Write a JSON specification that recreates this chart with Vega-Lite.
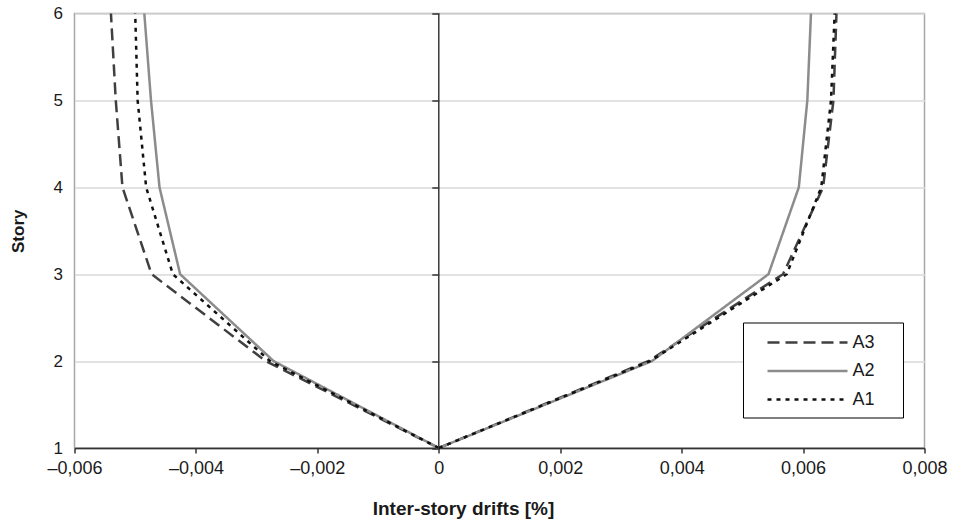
{
  "$schema": "https://vega.github.io/schema/vega-lite/v6.json",
  "width": 850,
  "height": 434.5,
  "autosize": {"type": "none"},
  "padding": {"left": 74.5, "top": 13.5, "right": 31.5, "bottom": 80},
  "background": "white",
  "config": {
    "font": "Liberation Sans",
    "view": {"stroke": "#a6a6a6", "strokeWidth": 1.5},
    "legend": {
      "orient": "none",
      "legendX": 668.5,
      "legendY": 309,
      "title": null,
      "symbolType": "M-4,0H4M8.2,0H8.2",
      "symbolSize": 400,
      "symbolStrokeWidth": 2.5,
      "symbolOffset": 44.5,
      "labelFontSize": 18,
      "labelColor": "#1a1a1a",
      "labelOffset": 33.5,
      "strokeColor": "#000000",
      "fillColor": "white",
      "padding": 8.5,
      "rowPadding": 7.5
    }
  },
  "data": {
    "values": [
      {"series": "A3", "side": "neg", "story": 1, "drift": 0},
      {"series": "A3", "side": "neg", "story": 2, "drift": -0.00285},
      {"series": "A3", "side": "neg", "story": 3, "drift": -0.00473},
      {"series": "A3", "side": "neg", "story": 4, "drift": -0.00521},
      {"series": "A3", "side": "neg", "story": 5, "drift": -0.00532},
      {"series": "A3", "side": "neg", "story": 6, "drift": -0.0054},
      {"series": "A2", "side": "neg", "story": 1, "drift": 0},
      {"series": "A2", "side": "neg", "story": 2, "drift": -0.00272},
      {"series": "A2", "side": "neg", "story": 3, "drift": -0.00426},
      {"series": "A2", "side": "neg", "story": 4, "drift": -0.0046},
      {"series": "A2", "side": "neg", "story": 5, "drift": -0.00474},
      {"series": "A2", "side": "neg", "story": 6, "drift": -0.00485},
      {"series": "A1", "side": "neg", "story": 1, "drift": 0},
      {"series": "A1", "side": "neg", "story": 2, "drift": -0.00278},
      {"series": "A1", "side": "neg", "story": 3, "drift": -0.00438},
      {"series": "A1", "side": "neg", "story": 4, "drift": -0.00482},
      {"series": "A1", "side": "neg", "story": 5, "drift": -0.00496},
      {"series": "A1", "side": "neg", "story": 6, "drift": -0.005},
      {"series": "A3", "side": "pos", "story": 1, "drift": 0},
      {"series": "A3", "side": "pos", "story": 2, "drift": 0.00345},
      {"series": "A3", "side": "pos", "story": 3, "drift": 0.00567},
      {"series": "A3", "side": "pos", "story": 4, "drift": 0.00633},
      {"series": "A3", "side": "pos", "story": 5, "drift": 0.0065},
      {"series": "A3", "side": "pos", "story": 6, "drift": 0.00655},
      {"series": "A2", "side": "pos", "story": 1, "drift": 0},
      {"series": "A2", "side": "pos", "story": 2, "drift": 0.00351},
      {"series": "A2", "side": "pos", "story": 3, "drift": 0.00543},
      {"series": "A2", "side": "pos", "story": 4, "drift": 0.00593},
      {"series": "A2", "side": "pos", "story": 5, "drift": 0.00607},
      {"series": "A2", "side": "pos", "story": 6, "drift": 0.00613},
      {"series": "A1", "side": "pos", "story": 1, "drift": 0},
      {"series": "A1", "side": "pos", "story": 2, "drift": 0.00348},
      {"series": "A1", "side": "pos", "story": 3, "drift": 0.00573},
      {"series": "A1", "side": "pos", "story": 4, "drift": 0.0063},
      {"series": "A1", "side": "pos", "story": 5, "drift": 0.00646},
      {"series": "A1", "side": "pos", "story": 6, "drift": 0.00652}
    ]
  },
  "layer": [
    {
      "mark": {"type": "rule", "color": "#3a3a3a", "strokeWidth": 1.5},
      "encoding": {
        "x": {
          "datum": 0,
          "type": "quantitative",
          "scale": {"domain": [-0.006, 0.008], "nice": false, "zero": false},
          "axis": {
            "orient": "bottom",
            "title": "Inter-story drifts [%]",
            "values": [-0.006, -0.004, -0.002, 0, 0.002, 0.004, 0.006, 0.008],
            "labelExpr": "datum.value == 0 ? '0' : (datum.value < 0 ? '–' : '') + replace(format(abs(datum.value), '.3f'), '.', ',')",
            "grid": false,
            "domainColor": "#333333",
            "domainWidth": 1.5,
            "tickColor": "#333333",
            "tickWidth": 1.5,
            "tickSize": 5,
            "labelFontSize": 18,
            "labelColor": "#1a1a1a",
            "labelPadding": 6,
            "labelFlush": false,
            "titleFontSize": 19,
            "titleFontWeight": "bold",
            "titleColor": "#1a1a1a",
            "titlePadding": 22,
            "titleX": 388.5,
            "titleAnchor": null,
            "titleAlign": "center"
          }
        },
        "y": {
          "aggregate": "min",
          "field": "story",
          "type": "quantitative",
          "scale": {"domain": [1, 6], "nice": false, "zero": false},
          "axis": {
            "orient": "left",
            "offset": -364.29,
            "values": [1, 2, 3, 4, 5, 6],
            "labels": false,
            "grid": false,
            "domain": false,
            "ticks": true,
            "tickSize": 7,
            "tickWidth": 1.5,
            "tickColor": "#333333",
            "title": null
          }
        },
        "y2": {"aggregate": "max", "field": "story"}
      }
    },
    {
      "mark": {"type": "line", "strokeWidth": 2.5},
      "encoding": {
        "x": {
          "field": "drift",
          "type": "quantitative",
          "scale": {"domain": [-0.006, 0.008], "nice": false, "zero": false},
          "axis": {
            "orient": "bottom",
            "title": "Inter-story drifts [%]",
            "values": [-0.006, -0.004, -0.002, 0, 0.002, 0.004, 0.006, 0.008],
            "labelExpr": "datum.value == 0 ? '0' : (datum.value < 0 ? '–' : '') + replace(format(abs(datum.value), '.3f'), '.', ',')",
            "grid": false,
            "domainColor": "#333333",
            "domainWidth": 1.5,
            "tickColor": "#333333",
            "tickWidth": 1.5,
            "tickSize": 5,
            "labelFontSize": 18,
            "labelColor": "#1a1a1a",
            "labelPadding": 6,
            "labelFlush": false,
            "titleFontSize": 19,
            "titleFontWeight": "bold",
            "titleColor": "#1a1a1a",
            "titlePadding": 22,
            "titleX": 388.5,
            "titleAnchor": null,
            "titleAlign": "center"
          }
        },
        "y": {
          "field": "story",
          "type": "quantitative",
          "scale": {"domain": [1, 6], "nice": false, "zero": false},
          "axis": {
            "orient": "left",
            "title": "Story",
            "values": [1, 2, 3, 4, 5, 6],
            "grid": true,
            "gridColor": "#d9d9d9",
            "gridWidth": 1.5,
            "domain": false,
            "ticks": false,
            "labelFontSize": 17,
            "labelColor": "#1a1a1a",
            "labelPadding": 12,
            "titleFontSize": 17,
            "titleFontWeight": "bold",
            "titleColor": "#1a1a1a",
            "titlePadding": 26
          }
        },
        "detail": {"field": "side"},
        "order": {"field": "story"},
        "color": {
          "field": "series",
          "type": "nominal",
          "scale": {"domain": ["A3", "A2", "A1"], "range": ["#404040", "#8c8c8c", "#111111"]},
          "legend": {"title": null}
        },
        "strokeDash": {
          "field": "series",
          "type": "nominal",
          "scale": {"domain": ["A3", "A2", "A1"], "range": [[12, 6], [1, 0], [4, 5]]},
          "legend": {"title": null}
        }
      }
    }
  ],
  "resolve": {"axis": {"y": "independent"}}
}
